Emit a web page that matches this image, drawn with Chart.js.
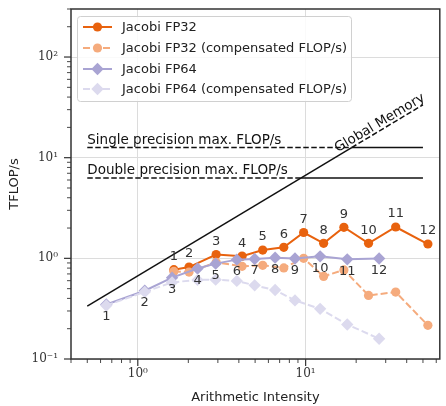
<!DOCTYPE html>
<html>
<head>
<meta charset="utf-8">
<script src="https://cdn.jsdelivr.net/npm/chart.js@4/dist/chart.umd.min.js"></script>
<style>
  html, body { margin: 0; padding: 0; background: #fff; }
  #wrap { width: 446px; height: 406px; }
</style>
</head>
<body>
<div id="wrap"><canvas id="c" width="446" height="406"></canvas></div>
<script>
// ---- data ----
const fp32X     = [1.64, 2.02, 2.93, 4.18, 5.55, 7.41, 9.73, 12.8, 16.9, 23.7, 34.4, 53.5];
const fp32Y     = [0.772, 0.819, 1.091, 1.052, 1.209, 1.286, 1.806, 1.410, 2.035, 1.410, 2.048, 1.388];
const fp32CompY = [0.742, 0.731, 0.912, 0.833, 0.852, 0.804, 1.000, 0.662, 0.768, 0.428, 0.462, 0.216];
const fp64X     = [0.649, 1.10, 1.60, 2.27, 2.91, 3.89, 4.97, 6.58, 8.64, 12.2, 17.7, 27.4];
const fp64Y     = [0.348, 0.477, 0.643, 0.792, 0.886, 0.971, 0.984, 1.016, 0.998, 1.047, 0.977, 0.995];
const fp64CompY = [0.340, 0.464, 0.577, 0.611, 0.614, 0.597, 0.539, 0.484, 0.382, 0.315, 0.220, 0.159];
const pointLabels = ['1','2','3','4','5','6','7','8','9','10','11','12'];

// roofline
const memX = [0.5, 18.8, 50];        // memory roof: solid to the SP knee, dashed beyond
const memY = [0.335, 12.6, 33.5];
const spRoofX = [0.5, 18.8, 50];     // dashed to knee, solid after
const spPeak = 12.6;
const dpRoofX = [0.5, 9.4, 50];
const dpPeak = 6.3;

const seriesNames = ['Jacobi FP32', 'Jacobi FP32 (compensated FLOP/s)', 'Jacobi FP64', 'Jacobi FP64 (compensated FLOP/s)'];
const roofTexts = ['Single precision max. FLOP/s', 'Double precision max. FLOP/s', 'Global Memory'];
const yTickLabels = {'-1': '10\u207B\u00B9', '0': '10\u2070', '1': '10\u00B9', '2': '10\u00B2'};
const xTickLabels = {'0': '10\u2070', '1': '10\u00B9'};

const C_OR = '#e8620e', C_OR_L = '#f5ab7d', C_PU = '#a9a4d3', C_PU_L = '#dcdaee';
const SANS = '"DejaVu Sans", sans-serif';
const SERIF = '"DejaVu Serif", serif';

const zip = (xs, ys) => xs.map((x, i) => ({x, y: ys[i]}));
const isDecade = v => Math.abs(Math.log10(v) - Math.round(Math.log10(v))) < 1e-9;

function roof(xs, ys, dash, order) {
  return { type: 'line', data: zip(xs, ys), borderColor: '#111', borderWidth: 1.5,
    borderDash: dash, pointRadius: 0, fill: false, order, tension: 0 };
}

const datasets = [
  roof(memX.slice(0, 2), memY.slice(0, 2), [], 20),
  roof(memX.slice(1), memY.slice(1), [5.5, 2.5], 20),
  roof(spRoofX.slice(0, 2), [spPeak, spPeak], [5.5, 2.5], 20),
  roof(spRoofX.slice(1), [spPeak, spPeak], [], 20),
  roof(dpRoofX.slice(0, 2), [dpPeak, dpPeak], [5.5, 2.5], 20),
  roof(dpRoofX.slice(1), [dpPeak, dpPeak], [], 20),
  { label: seriesNames[0], data: zip(fp32X, fp32Y), borderColor: C_OR, backgroundColor: C_OR,
    borderWidth: 2, pointStyle: 'circle', pointRadius: 4.6, pointBorderWidth: 0, order: 4, tension: 0 },
  { label: seriesNames[1], data: zip(fp32X, fp32CompY), borderColor: C_OR_L, backgroundColor: C_OR_L,
    borderWidth: 2, borderDash: [7, 3], pointStyle: 'circle', pointRadius: 4.6, pointBorderWidth: 0, order: 3, tension: 0 },
  { label: seriesNames[2], data: zip(fp64X, fp64Y), borderColor: C_PU, backgroundColor: C_PU,
    borderWidth: 2, pointStyle: 'rectRot', pointRadius: 6.2, pointBorderWidth: 0, order: 2, tension: 0 },
  { label: seriesNames[3], data: zip(fp64X, fp64CompY), borderColor: C_PU_L, backgroundColor: C_PU_L,
    borderWidth: 2, borderDash: [7, 3], pointStyle: 'rectRot', pointRadius: 6.2, pointBorderWidth: 0, order: 1, tension: 0 }
];

function drawLine(ctx, x1, y1, x2, y2, color, w, dash) {
  ctx.save(); ctx.strokeStyle = color; ctx.lineWidth = w; ctx.setLineDash(dash || []);
  ctx.beginPath(); ctx.moveTo(x1, y1); ctx.lineTo(x2, y2); ctx.stroke(); ctx.restore();
}

const decor = {
  id: 'decor',
  afterDatasetsDraw(chart) {
    const {ctx, chartArea: a, scales: {x, y}} = chart;
    // roof texts
    ctx.save();
    ctx.fillStyle = '#111';
    ctx.font = '13.5px ' + SANS;
    ctx.textAlign = 'left'; ctx.textBaseline = 'alphabetic';
    ctx.fillText(roofTexts[0], x.getPixelForValue(0.5), y.getPixelForValue(spPeak) - 4);
    ctx.fillText(roofTexts[1], x.getPixelForValue(0.5), y.getPixelForValue(dpPeak) - 4);
    // Global Memory along memory line
    const px1 = x.getPixelForValue(memX[0]), py1 = y.getPixelForValue(memY[0]);
    const px2 = x.getPixelForValue(memX[2]), py2 = y.getPixelForValue(memY[2]);
    const ang = Math.atan2(py2 - py1, px2 - px1);
    const tx = x.getPixelForValue(29), ty = y.getPixelForValue(memY[2] * 29 / memX[2]);
    ctx.translate(tx, ty); ctx.rotate(ang);
    ctx.textAlign = 'center';
    ctx.fillText(roofTexts[2], 0, -3);
    ctx.restore();

    // point labels
    ctx.save();
    ctx.fillStyle = '#333';
    ctx.font = '13px ' + SANS;
    ctx.textAlign = 'center'; ctx.textBaseline = 'middle';
    fp32X.forEach((v, i) => ctx.fillText(pointLabels[i], x.getPixelForValue(v), y.getPixelForValue(fp32Y[i]) - 13));
    fp64X.forEach((v, i) => ctx.fillText(pointLabels[i], x.getPixelForValue(v), y.getPixelForValue(fp64Y[i]) + 12));
    ctx.restore();

    // ticks
    const tickCol = '#333';
    for (let e = -1; e <= 2; e++) for (let m = 1; m <= 9; m++) {
      const v = m * Math.pow(10, e);
      if (v >= x.min - 1e-9 && v <= x.max) {
        const p = x.getPixelForValue(v);
        drawLine(ctx, p, a.bottom, p, a.bottom + (m === 1 ? 7 : 4), tickCol, m === 1 ? 1.2 : 0.9);
      }
      if (v >= y.min - 1e-9 && v <= y.max) {
        const p = y.getPixelForValue(v);
        drawLine(ctx, a.left, p, a.left - (m === 1 ? 7 : 4), p, tickCol, m === 1 ? 1.2 : 0.9);
      }
    }
    // frame
    ctx.save(); ctx.strokeStyle = '#333'; ctx.lineWidth = 1.5;
    ctx.strokeRect(a.left, a.top, a.right - a.left, a.bottom - a.top);
    ctx.restore();

    // legend
    const lx = 77.5, ly = 16.5, lw = 274, lh = 85;
    ctx.save();
    ctx.fillStyle = 'rgba(255,255,255,0.85)';
    ctx.strokeStyle = '#d0d0d0'; ctx.lineWidth = 1;
    ctx.beginPath();
    if (ctx.roundRect) ctx.roundRect(lx, ly, lw, lh, 3); else ctx.rect(lx, ly, lw, lh);
    ctx.fill(); ctx.stroke();
    const rows = [27, 48, 69, 89];
    const dsIdx = [6, 7, 8, 9];
    rows.forEach((ry, k) => {
      const ds = chart.data.datasets[dsIdx[k]];
      drawLine(ctx, 83, ry, 112, ry, ds.borderColor, 2, ds.borderDash);
      ctx.fillStyle = ds.backgroundColor;
      ctx.beginPath();
      if (ds.pointStyle === 'circle') ctx.arc(97.5, ry, 4.6, 0, Math.PI * 2);
      else { const r = 6.2; ctx.moveTo(97.5 - r, ry); ctx.lineTo(97.5, ry - r); ctx.lineTo(97.5 + r, ry); ctx.lineTo(97.5, ry + r); ctx.closePath(); }
      ctx.fill();
      ctx.fillStyle = '#222';
      ctx.font = '13px ' + SANS;
      ctx.textAlign = 'left'; ctx.textBaseline = 'middle';
      ctx.fillText(ds.label, 122, ry + 0.5);
    });
    ctx.restore();
  }
};

const gridColor = c => (c.tick && isDecade(c.tick.value)) ? '#dcdcdc' : 'rgba(0,0,0,0)';
const noPad = s => { s.paddingTop = 0; s.paddingBottom = 0; s.paddingLeft = 0; s.paddingRight = 0; };

new Chart(document.getElementById('c'), {
  type: 'line',
  data: { datasets },
  options: {
    responsive: false, animation: false, devicePixelRatio: 1,
    layout: { padding: { top: 9, right: 3, left: 0, bottom: 0 } },
    plugins: { legend: { display: false }, tooltip: { enabled: false } },
    scales: {
      x: {
        type: 'logarithmic', min: 0.4, max: 63,
        grid: { color: gridColor, lineWidth: 1, drawTicks: false },
        border: { display: false },
        ticks: { autoSkip: false, maxRotation: 0, padding: 8, color: '#333',
          font: { family: SERIF, size: 12 },
          callback: v => isDecade(v) ? (xTickLabels[String(Math.round(Math.log10(v)))] || '') : '' },
        title: { display: true, text: 'Arithmetic Intensity', color: '#222',
          font: { family: SANS, size: 13 }, padding: { top: 0, bottom: 1 } },
        afterFit: s => { s.height = 47; noPad(s); }
      },
      y: {
        type: 'logarithmic', min: 0.1, max: 300,
        grid: { color: gridColor, lineWidth: 1, drawTicks: false },
        border: { display: false },
        ticks: { autoSkip: false, padding: 13, color: '#333',
          font: { family: SERIF, size: 12 },
          callback: v => isDecade(v) ? (yTickLabels[String(Math.round(Math.log10(v)))] || '') : '' },
        title: { display: true, text: 'TFLOP/s', color: '#222',
          font: { family: SANS, size: 13 }, padding: { top: 7, bottom: 0 } },
        afterFit: s => { s.width = 71; noPad(s); }
      }
    }
  },
  plugins: [decor]
});
</script>
</body>
</html>
